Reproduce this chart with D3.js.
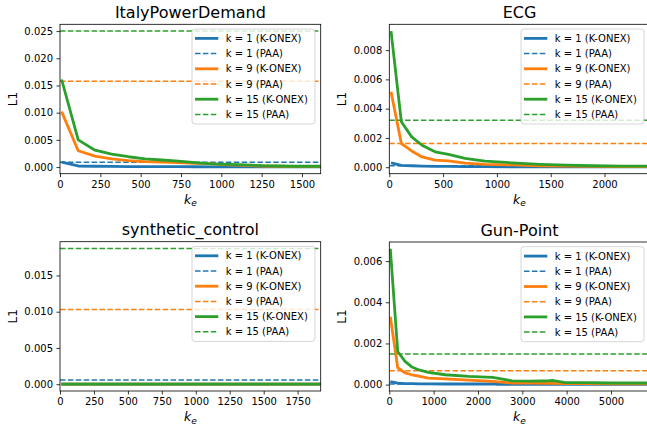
<!DOCTYPE html>
<html>
<head>
<meta charset="utf-8">
<script src="https://cdn.jsdelivr.net/npm/d3@7"></script>
<style>
  body { margin: 0; background: #fff; }
  svg { display: block; font-family: "DejaVu Sans", sans-serif; }
</style>
</head>
<body>
<svg id="chart" width="647" height="430"></svg>
<script>
// series: k = 1, 9, 15 for K-ONEX (curves over k_e) and PAA (flat reference)
var seriesLabels = ["k = 1 (K-ONEX)", "k = 1 (PAA)", "k = 9 (K-ONEX)", "k = 9 (PAA)", "k = 15 (K-ONEX)", "k = 15 (PAA)"];
var colors = ["#1f77b4", "#ff7f0e", "#2ca02c"];

// ItalyPowerDemand
var italyKe = [10, 113, 217, 320, 424, 527, 631, 734, 838, 941, 1045, 1148, 1252, 1355, 1459, 1562, 1616];
var italyK1 = [0.0009, 0.0002, 0.00015, 0.00012, 0.0001, 0.0001, 0.00008, 0.00007, 0.00006, 0.00005, 0.00005, 0.00004, 0.00004, 0.00003, 0.00003, 0.00003, 0.00003];
var italyK9 = [0.0102, 0.0030, 0.0020, 0.0015, 0.0012, 0.0010, 0.0009, 0.0008, 0.0007, 0.0006, 0.0004, 0.0003, 0.0002, 0.00015, 0.0001, 0.0001, 0.0001];
var italyK15 = [0.0161, 0.0050, 0.0031, 0.0024, 0.0019, 0.0015, 0.0013, 0.0011, 0.0008, 0.0006, 0.0005, 0.0004, 0.00025, 0.0002, 0.00015, 0.00015, 0.00015];
var italyPaa = [0.0009, 0.0158, 0.0250];
var italyXTicks = [0, 250, 500, 750, 1000, 1250, 1500];
var italyYTicks = [0, 0.005, 0.010, 0.015, 0.020, 0.025];

// ECG
var ecgKe = [16, 112, 208, 304, 425, 550, 704, 890, 1140, 1400, 1650, 1900, 2150, 2420];
var ecgK1 = [0.0003, 0.00013, 0.0001, 0.00008, 0.00006, 0.00005, 0.00004, 0.00004, 0.00003, 0.00003, 0.00003, 0.00002, 0.00002, 0.00002];
var ecgK9 = [0.00515, 0.00162, 0.00111, 0.0007, 0.00048, 0.00043, 0.00028, 0.0002, 0.00016, 0.0001, 0.00007, 0.00005, 0.00004, 0.00004];
var ecgK15 = [0.0093, 0.0031, 0.00207, 0.0015, 0.00105, 0.00088, 0.0006, 0.00042, 0.0003, 0.0002, 0.00014, 0.0001, 0.00008, 0.00007];
var ecgPaa = [0.0001, 0.00162, 0.00321];
var ecgXTicks = [0, 500, 1000, 1500, 2000];
var ecgYTicks = [0, 0.002, 0.004, 0.006, 0.008];

// synthetic_control
var synthKe = [10, 400, 800, 1200, 1600, 1920];
var synthK1 = [0, 0, 0, 0, 0, 0];
var synthK9 = [0, 0, 0, 0, 0, 0];
var synthK15 = [0, 0, 0, 0, 0, 0];
var synthPaa = [0.00059, 0.01032, 0.01872];
var synthXTicks = [0, 250, 500, 750, 1000, 1250, 1500, 1750];
var synthYTicks = [0, 0.005, 0.010, 0.015];

// Gun-Point
var gunKe = [23, 190, 355, 506, 690, 882, 1260, 1790, 2320, 2400, 2770, 3200, 3600, 3700, 3975, 4500, 5000, 5873];
var gunK1 = [0.00015, 0.00007, 0.00005, 0.00005, 0.00004, 0.00004, 0.00003, 0.00003, 0.00003, 0.00002, 0.00002, 0.00002, 0.00002, 0.00002, 0.00002, 0.00002, 0.00002, 0.00002];
var gunK9 = [0.0033, 0.00082, 0.00057, 0.00048, 0.0004, 0.00032, 0.00028, 0.00022, 0.00016, 0.00015, 0.00008, 0.00007, 0.00006, 0.00006, 0.00005, 0.00005, 0.00004, 0.00004];
var gunK15 = [0.0066, 0.00161, 0.00113, 0.00086, 0.0007, 0.0006, 0.00048, 0.0004, 0.00035, 0.00033, 0.00018, 0.00017, 0.00019, 0.0002, 0.0001, 0.0001, 0.00008, 0.00008];
var gunPaa = [0.00003, 0.00068, 0.00149];
var gunXTicks = [0, 1000, 2000, 3000, 4000, 5000];
var gunYTicks = [0, 0.002, 0.004, 0.006];

var panels = [
    {title: "ItalyPowerDemand", ke: italyKe, curves: [italyK1, italyK9, italyK15], paa: italyPaa,
     xMax: 1616, xTicks: italyXTicks, yTicks: italyYTicks, box: [60, 24.3, 320.7, 173.7]},
    {title: "ECG", ke: ecgKe, curves: [ecgK1, ecgK9, ecgK15], paa: ecgPaa,
     xMax: 2420, xTicks: ecgXTicks, yTicks: ecgYTicks, box: [389.3, 24.3, 649.7, 173.7]},
    {title: "synthetic_control", ke: synthKe, curves: [synthK1, synthK9, synthK15], paa: synthPaa,
     xMax: 1920, xTicks: synthXTicks, yTicks: synthYTicks, box: [60, 241.7, 320.7, 391]},
    {title: "Gun-Point", ke: gunKe, curves: [gunK1, gunK9, gunK15], paa: gunPaa,
     xMax: 5873, xTicks: gunXTicks, yTicks: gunYTicks, box: [389.3, 242, 649.7, 391]}
];

var svg = d3.select("#chart");
var fmt = d3.format(".3f");

panels.forEach(function (p, idx) {
    var left = p.box[0], top = p.box[1], right = p.box[2], bottom = p.box[3];

    // y limits: data range plus 5% margin each side
    var all = p.paa.slice();
    p.curves.forEach(function (c) { all = all.concat(c); });
    var lo = d3.min(all), hi = d3.max(all), pad = (hi - lo) * 0.05;

    var x = d3.scaleLinear().domain([0, p.xMax]).range([left, right]);
    var y = d3.scaleLinear().domain([lo - pad, hi + pad]).range([bottom, top]);

    var clipId = "clip" + idx;
    svg.append("clipPath").attr("id", clipId)
        .append("rect")
        .attr("x", left).attr("y", top)
        .attr("width", right - left).attr("height", bottom - top);

    var g = svg.append("g");
    var plot = g.append("g").attr("clip-path", "url(#" + clipId + ")");

    var line = d3.line()
        .x((d) => x(d[0]))
        .y((d) => y(d[1]));

    // plot order: K-ONEX then PAA for each k
    for (var i = 0; i < 3; i++) {
        var pts = p.ke.map((k, j) => [k, p.curves[i][j]]);
        plot.append("path")
            .attr("d", line(pts))
            .attr("fill", "none")
            .attr("stroke", colors[i])
            .attr("stroke-width", 2.8)
            .attr("stroke-linejoin", "round");
        plot.append("line")
            .attr("x1", x(0)).attr("x2", x(p.xMax))
            .attr("y1", y(p.paa[i])).attr("y2", y(p.paa[i]))
            .attr("stroke", colors[i])
            .attr("stroke-width", 1.5)
            .attr("stroke-dasharray", "5.5,2.4");
    }

    // axes
    var xAxis = d3.axisBottom(x).tickValues(p.xTicks).tickSize(3.5).tickPadding(3.5).tickFormat(d3.format("d"));
    var yAxis = d3.axisLeft(y).tickValues(p.yTicks).tickSize(3.5).tickPadding(3.5).tickFormat(fmt);

    var gx = g.append("g").attr("transform", "translate(0," + bottom + ")").call(xAxis);
    var gy = g.append("g").attr("transform", "translate(" + left + ",0)").call(yAxis);
    [gx, gy].forEach(function (a) {
        a.select(".domain").remove();
        a.selectAll(".tick line").attr("stroke", "#000").attr("stroke-width", 0.8);
        a.selectAll(".tick text")
            .attr("fill", "#000")
            .style("font-size", "10px")
            .style("font-family", "DejaVu Sans");
    });

    // frame
    g.append("rect")
        .attr("x", left).attr("y", top)
        .attr("width", right - left).attr("height", bottom - top)
        .attr("fill", "none")
        .attr("stroke", "#000")
        .attr("stroke-width", 0.8);

    // title
    g.append("text")
        .attr("x", (left + right) / 2)
        .attr("y", top - 6.5)
        .attr("text-anchor", "middle")
        .style("font-size", "16px")
        .text(p.title);

    // y label
    g.append("text")
        .attr("transform", "translate(" + (left - 43) + "," + ((top + bottom) / 2) + ") rotate(-90)")
        .attr("text-anchor", "middle")
        .style("font-size", "12px")
        .text("L1");

    // x label k_e
    var xl = g.append("text")
        .attr("x", (left + right) / 2)
        .attr("y", bottom + 30)
        .attr("text-anchor", "middle")
        .style("font-size", "12.5px")
        .style("font-style", "italic");
    xl.append("tspan").text("k");
    xl.append("tspan").attr("dy", 2.5).style("font-size", "9px").text("e");

    // legend
    var lw = 123, lh = 95;
    var lx = right - 5.7 - lw, ly = top + 4.7;
    var leg = g.append("g");
    leg.append("rect")
        .attr("x", lx).attr("y", ly)
        .attr("width", lw).attr("height", lh)
        .attr("rx", 3)
        .attr("fill", "#fff").attr("fill-opacity", 0.8)
        .attr("stroke", "#ccc").attr("stroke-width", 0.8);
    seriesLabels.forEach(function (lab, i) {
        var cy = ly + 9.4 + i * 15.2;
        var dashed = i % 2 === 1;
        leg.append("line")
            .attr("x1", lx + 3).attr("x2", lx + 26.3)
            .attr("y1", cy).attr("y2", cy)
            .attr("stroke", colors[Math.floor(i / 2)])
            .attr("stroke-width", dashed ? 1.5 : 2.8)
            .attr("stroke-dasharray", dashed ? "5.5,2.4" : null);
        leg.append("text")
            .attr("x", lx + 33.7).attr("y", cy + 3.6)
            .style("font-size", "10px")
            .text(lab);
    });
});
</script>
</body>
</html>
